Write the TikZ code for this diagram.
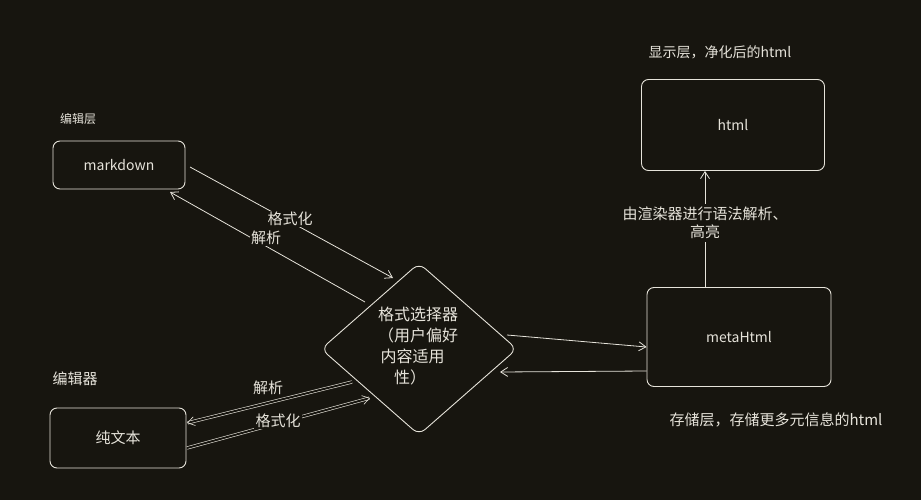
\documentclass[tikz,border=0pt]{standalone}
\usepackage{fontspec}
\setmainfont{Noto Sans CJK SC}
\usetikzlibrary{shapes.geometric,arrows.meta}
\definecolor{bg}{HTML}{17150F}
\definecolor{ink}{HTML}{E6E3DA}
\tikzset{
  box/.style={draw=ink,rounded corners=7pt,line width=0.9pt,minimum width=#1,inner sep=0pt},
  lbl/.style={text=ink,font=\fontsize{15}{18}\selectfont,fill=bg,inner sep=1.5pt,align=center},
  captext/.style={text=ink,font=\fontsize{14}{16}\selectfont},
  conn/.style={draw=ink,line width=0.8pt,-{Straight Barb[length=7pt,width=9pt]}},
  dconn/.style={draw=ink,double=bg,double distance=2pt,line width=0.6pt,-{Straight Barb[length=7pt,width=9pt]}},
}
\begin{document}
\begin{tikzpicture}[x=1pt,y=-1pt]
\fill[bg] (0,0) rectangle (921,500);
\useasboundingbox (0,0) rectangle (921,500);
\node[box=132pt,minimum height=48pt,text=ink,font=\fontsize{14}{16}\selectfont] (md) at (119,165) {markdown};
\node[box=136pt,minimum height=60pt,text=ink,font=\fontsize{15}{18}\selectfont] (txt) at (118,438) {纯文本};
\node[box=184pt,minimum height=99pt,text=ink,font=\fontsize{14}{16}\selectfont] (meta) at (739,337) {metaHtml};
\node[box=183pt,minimum height=91pt,text=ink,font=\fontsize{14}{16}\selectfont] (html) at (733,125) {html};
\node[draw=ink,diamond,line width=0.9pt,minimum width=196pt,minimum height=172pt,inner sep=0pt,rounded corners=8pt] (sel) at (419,349) {};
\node[text=ink,align=left,font=\fontsize{16}{21}\selectfont] (seltext) at (418,346) {格式选择器\\（用户偏好\\\,内容适用\\\quad 性）};
\node[captext,font=\fontsize{12}{14}\selectfont] (c1) at (78,119) {编辑层};
\node[captext,font=\fontsize{15}{18}\selectfont] (c2) at (75,379) {编辑器};
\node[captext] (c3) at (720,52) {显示层，净化后的html};
\node[captext,font=\fontsize{15}{18}\selectfont] (c4) at (776,420) {存储层，存储更多元信息的html};
\coordinate (a1s) at (190,167); \coordinate (a1e) at (393,278);
\coordinate (a2s) at (365,302); \coordinate (a2e) at (170,192);
\draw[conn] (a1s) -- (a1e);
\draw[conn] (a2s) -- (a2e);
\node[lbl] (l1) at (290,219) {格式化};
\node[lbl] (l2) at (266,238) {解析};
\coordinate (b1s) at (352,382); \coordinate (b1e) at (187,423);
\coordinate (b2s) at (187,448); \coordinate (b2e) at (370,398);
\draw[dconn] (b1s) -- (b1e);
\draw[dconn] (b2s) -- (b2e);
\node[lbl] (l3) at (268,388) {解析};
\node[lbl] (l4) at (278,421) {格式化};
\draw[conn] (507,335) -- (meta.west |- 0,347);
\draw[conn] (meta.west |- 0,371) -- (500,372);
\draw[conn] (meta.north -| 705,0) -- node[lbl,pos=0.55,inner sep=3pt] {由渲染器进行语法解析、\\高亮} (html.south -| 705,0);
\end{tikzpicture}
\end{document}
